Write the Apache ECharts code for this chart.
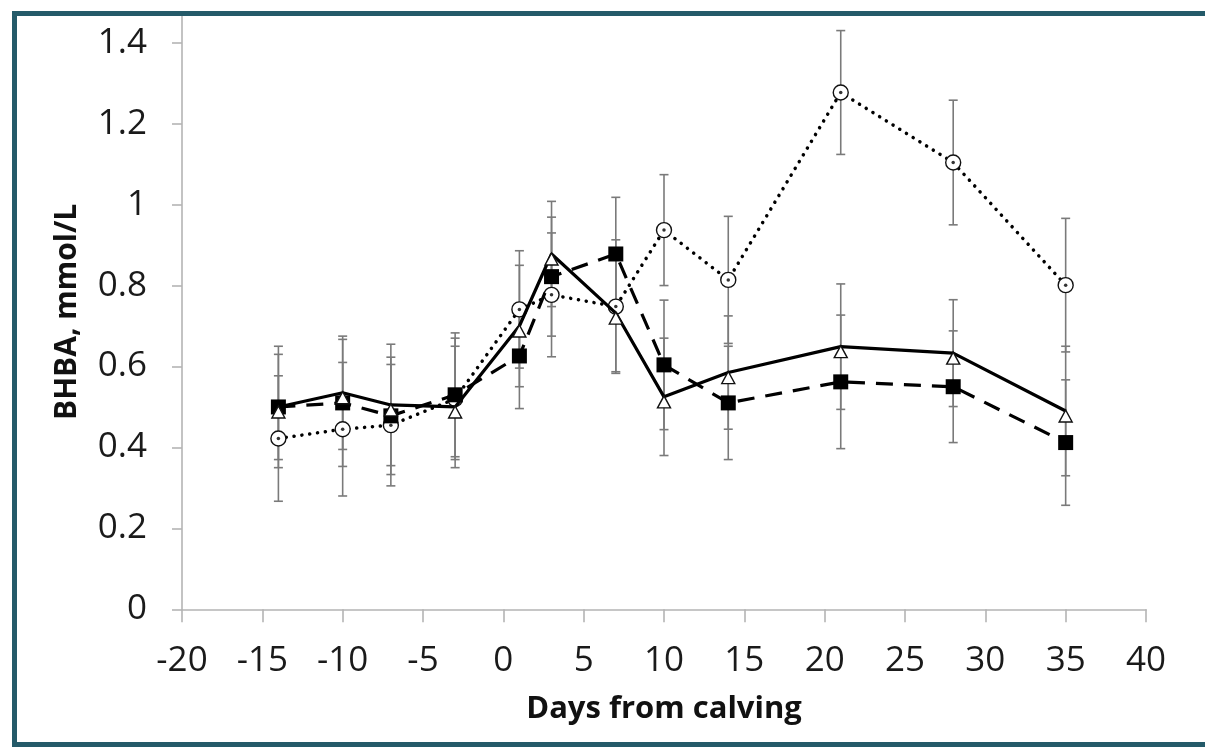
<!DOCTYPE html>
<html>
<head>
<meta charset="utf-8">
<script src="https://cdn.jsdelivr.net/npm/echarts@6/dist/echarts.min.js"></script>
<style>
  html, body { margin: 0; padding: 0; background: #fff; }
  #chart { position: absolute; left: 0; top: 0; width: 1205px; height: 747px; }
  #topmask { position: absolute; left: 0; top: 0; width: 1205px; height: 11px; background: #fff; }
  #frame { position: absolute; left: 12px; top: 11px; width: 1200px; height: 736px;
           border-top: 5px solid #245a69; border-left: 5px solid #245a69; border-bottom: 5px solid #245a69;
           box-sizing: border-box; pointer-events: none; }
</style>
</head>
<body>
<div id="chart"></div>
<div id="topmask"></div>
<div id="frame"></div>
<script>
// Days from calving
const days = [-14, -10, -7, -3, 1, 3, 7, 10, 14, 21, 28, 35];
// Solid line, open triangles
const triMean = [0.50, 0.535, 0.505, 0.50, 0.70, 0.878, 0.732, 0.525, 0.585, 0.649, 0.633, 0.49];
const triSE   = [0.13, 0.14, 0.15, 0.15, 0.15, 0.13, 0.145, 0.145, 0.14, 0.155, 0.132, 0.16];
// Dashed line, filled squares
const sqMean  = [0.50, 0.51, 0.478, 0.53, 0.626, 0.822, 0.878, 0.604, 0.51, 0.562, 0.55, 0.412];
const sqSE    = [0.15, 0.157, 0.145, 0.153, 0.13, 0.147, 0.14, 0.16, 0.14, 0.165, 0.138, 0.155];
// Dotted line, open circles
const cirMean = [0.422, 0.445, 0.455, 0.52, 0.741, 0.777, 0.748, 0.937, 0.814, 1.277, 1.104, 0.801];
const cirSE   = [0.155, 0.165, 0.15, 0.15, 0.145, 0.153, 0.165, 0.137, 0.157, 0.153, 0.154, 0.165];

const xTitle = 'Days from calving';
const yTitle = 'BHBA, mmol/L';

const FONT = '"Open Sans", "Noto Sans", sans-serif';

function pts(mean) { return days.map((d, i) => [d, mean[i]]); }

function errSeries(mean, se) {
  return {
    type: 'custom',
    z: 1,
    silent: true,
    data: days.map((d, i) => [d, mean[i] - se[i], mean[i] + se[i]]),
    encode: { x: 0, y: [1, 2] },
    renderItem: function (params, api) {
      const x = api.value(0);
      const lo = api.coord([x, api.value(1)]);
      const hi = api.coord([x, api.value(2)]);
      const w = 4.5;
      const st = { stroke: '#7a7a7a', lineWidth: 1.6 };
      return {
        type: 'group',
        children: [
          { type: 'line', shape: { x1: lo[0], y1: lo[1], x2: hi[0], y2: hi[1] }, style: st },
          { type: 'line', shape: { x1: lo[0] - w, y1: lo[1], x2: lo[0] + w, y2: lo[1] }, style: st },
          { type: 'line', shape: { x1: hi[0] - w, y1: hi[1], x2: hi[0] + w, y2: hi[1] }, style: st }
        ]
      };
    }
  };
}

const chart = echarts.init(document.getElementById('chart'), null, { renderer: 'canvas' });
chart.setOption({
  animation: false,
  backgroundColor: '#fff',
  grid: { left: 182, right: 59, top: 14.4, bottom: 137.7, containLabel: false },
  xAxis: {
    type: 'value', min: -20, max: 40, interval: 5,
    name: xTitle, nameLocation: 'middle', nameGap: 84,
    nameTextStyle: { fontFamily: FONT, fontWeight: 'bold', fontSize: 31, color: '#111' },
    axisLine: { show: true, onZero: false, lineStyle: { color: '#b4b4b4', width: 1.6 } },
    axisTick: { show: true, length: 13, lineStyle: { color: '#b4b4b4', width: 1.6 } },
    axisLabel: { fontFamily: FONT, fontSize: 35, color: '#1a1a1a', margin: 34 },
    splitLine: { show: false }
  },
  yAxis: {
    type: 'value', min: 0, max: 1.47, interval: 0.2,
    name: yTitle, nameLocation: 'middle', nameGap: 100, nameRotate: 90,
    nameTextStyle: { fontFamily: FONT, fontWeight: 'bold', fontSize: 30, color: '#111' },
    axisLine: { show: true, onZero: false, lineStyle: { color: '#b4b4b4', width: 1.6 } },
    axisTick: { show: true, length: 10, lineStyle: { color: '#b4b4b4', width: 1.6 } },
    axisLabel: { fontFamily: FONT, fontSize: 35, color: '#1a1a1a', margin: 35, showMaxLabel: false },
    splitLine: { show: false }
  },
  series: [
    errSeries(triMean, triSE),
    errSeries(sqMean, sqSE),
    errSeries(cirMean, cirSE),
    {
      type: 'line', z: 3, data: pts(cirMean),
      symbol: 'circle', symbolSize: 15, showSymbol: true,
      lineStyle: { color: '#000', width: 3.5, type: [0.1, 7.8], cap: 'round' },
      itemStyle: { color: '#fff', borderColor: '#111', borderWidth: 1.4 }
    },
    {
      type: 'scatter', z: 6, data: pts(cirMean),
      symbol: 'circle', symbolSize: 3.5,
      itemStyle: { color: '#000' }
    },
    {
      type: 'line', z: 4, data: pts(sqMean),
      symbol: 'rect', symbolSize: 15, showSymbol: true,
      lineStyle: { color: '#000', width: 3.2, type: [17, 11] },
      itemStyle: { color: '#000', borderColor: '#000', borderWidth: 0 }
    },
    {
      type: 'line', z: 5, data: pts(triMean),
      symbol: 'triangle', symbolSize: [13, 12], symbolOffset: [0, 5], showSymbol: true,
      lineStyle: { color: '#000', width: 3.2, type: 'solid' },
      itemStyle: { color: '#fff', borderColor: '#111', borderWidth: 1.4 }
    }
  ]
});
</script>
</body>
</html>
